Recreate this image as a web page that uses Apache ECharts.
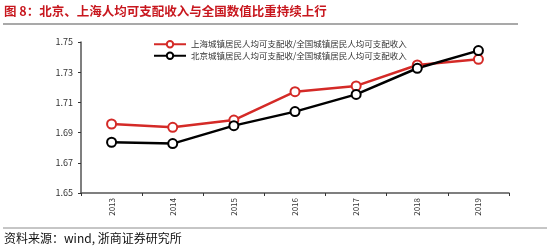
<!DOCTYPE html>
<html lang="zh">
<head>
    <meta charset="UTF-8">
    <title>北京、上海人均可支配收入与全国数值比重</title>
    <script src="https://cdn.jsdelivr.net/npm/echarts@6/dist/echarts.min.js"></script>
    <style>
        html, body { margin: 0; padding: 0; background: #fff; }
        #chart { width: 550px; height: 252px; }
    </style>
</head>
<body>
    <div id="chart"></div>
    <script>
        const years = ['2013', '2014', '2015', '2016', '2017', '2018', '2019'];
        const shanghai = [1.6957, 1.6935, 1.6983, 1.7171, 1.7209, 1.7348, 1.7385];
        const beijing = [1.6836, 1.6827, 1.6946, 1.7039, 1.7153, 1.7326, 1.7443];
        const shName = '上海城镇居民人均可支配收/全国城镇居民人均可支配收入';
        const bjName = '北京城镇居民人均可支配收/全国城镇居民人均可支配收入';

        const chart = echarts.init(document.getElementById('chart'));

        const option = {
            animation: false,
            textStyle: { fontFamily: '"Noto Sans CJK SC", sans-serif' },
            graphic: [
                {
                    type: 'text', left: 4, top: 5,
                    style: {
                        text: '图 8：北京、上海人均可支配收入与全国数值比重持续上行',
                        fill: '#c8171e', font: 'bold 12.5px "Noto Sans CJK SC"'
                    }
                },
                {
                    type: 'line', shape: { x1: 3, y1: 24, x2: 518, y2: 24 },
                    style: { stroke: '#8c8c8c', lineWidth: 1.5 }
                },
                {
                    type: 'line', shape: { x1: 3, y1: 228, x2: 547, y2: 228 },
                    style: { stroke: '#8c8c8c', lineWidth: 1 }
                },
                {
                    type: 'text', left: 4, top: 232,
                    style: {
                        text: '资料来源：wind, 浙商证券研究所',
                        fill: '#111', font: '12px "Noto Sans CJK SC"'
                    }
                }
            ],
            legend: {
                orient: 'vertical',
                left: 148, top: 35,
                itemWidth: 32, itemHeight: 8, itemGap: 3,
                textStyle: { fontSize: 8.5, color: '#333' },
                data: [shName, bjName]
            },
            grid: { left: 81, right: 41, top: 42, bottom: 59 },
            xAxis: {
                type: 'category',
                data: years,
                boundaryGap: true,
                axisLine: { lineStyle: { color: '#555', width: 1.5 } },
                axisTick: { show: true, length: 3, lineStyle: { color: '#333' } },
                axisLabel: { rotate: 90, fontSize: 8, color: '#333', margin: 5 }
            },
            yAxis: {
                type: 'value',
                min: 1.65, max: 1.75, interval: 0.02,
                splitLine: { show: false },
                axisLine: { show: true, lineStyle: { color: '#555', width: 1.5 } },
                axisTick: { show: true, length: 3, lineStyle: { color: '#333' } },
                axisLabel: {
                    fontSize: 9, color: '#333', margin: 8,
                    formatter: v => v.toFixed(2)
                }
            },
            series: [
                {
                    name: shName, type: 'line', data: shanghai,
                    symbol: 'emptyCircle', symbolSize: 9,
                    lineStyle: { color: '#d42a27', width: 2.5 },
                    itemStyle: { color: '#d42a27', borderWidth: 1 }
                },
                {
                    name: bjName, type: 'line', data: beijing,
                    symbol: 'emptyCircle', symbolSize: 9,
                    lineStyle: { color: '#000', width: 2.5 },
                    itemStyle: { color: '#000', borderWidth: 1 }
                }
            ]
        };

        chart.setOption(option);
    </script>
</body>
</html>
